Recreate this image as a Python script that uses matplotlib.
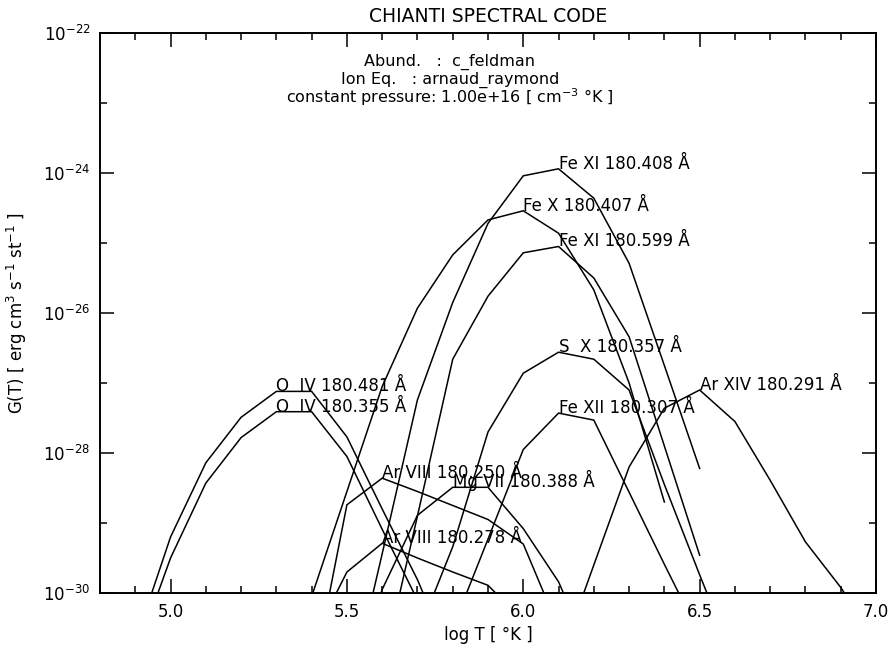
import numpy as np
import matplotlib
matplotlib.use("Agg")
import matplotlib.pyplot as plt
from matplotlib.ticker import FixedLocator, MultipleLocator, LogFormatterMathtext, FormatStrFormatter

# log10 G(T) tabulated on a 0.1 dex temperature grid
o4_481_t0 = 4.9
o4_481 = [-30.7, -29.2, -28.14, -27.49, -27.12, -27.12, -27.77, -28.8, -29.81, -31.0]
o4_355_t0 = 4.9
o4_355 = [-30.9, -29.5, -28.43, -27.78, -27.41, -27.41, -28.05, -29.09, -30.1, -31.2]
fe11_408_t0 = 5.5
fe11_408 = [-31.6, -29.44, -27.24, -25.85, -24.72, -24.04, -23.94, -24.36, -25.29, -26.75, -28.22]
fe10_407_t0 = 5.3
fe10_407 = [-31.8, -30.05, -28.55, -27.05, -25.93, -25.17, -24.67, -24.54, -24.86, -25.67, -27.0, -28.70]
fe11_599_t0 = 5.6
fe11_599 = [-31.1, -28.9, -26.66, -25.76, -25.14, -25.05, -25.50, -26.34, -27.9, -29.46]
s10_357_t0 = 5.7
s10_357 = [-30.6, -29.34, -27.70, -26.86, -26.56, -26.66, -27.1, -28.45, -29.74, -31.0]
fe12_307_t0 = 5.8
fe12_307 = [-30.5, -29.23, -27.95, -27.43, -27.53, -28.56, -29.59, -30.6]
ar14_291_t0 = 6.1
ar14_291 = [-31.0, -29.6, -28.2, -27.36, -27.1, -27.55, -28.39, -29.27, -29.92, -30.7]
ar8_250_t0 = 5.4
ar8_250 = [-31.3, -28.74, -28.36, -28.55, -28.75, -28.95, -29.3, -30.5]
mg7_388_t0 = 5.5
mg7_388 = [-31.5, -29.95, -28.89, -28.49, -28.49, -29.08, -29.84, -31.0]
ar8_278_t0 = 5.4
ar8_278 = [-30.7, -29.70, -29.29, -29.5, -29.70, -29.89, -30.4]

lines = [
    ("O  IV 180.481 \u00c5", o4_481_t0, o4_481),
    ("O  IV 180.355 \u00c5", o4_355_t0, o4_355),
    ("Fe XI 180.408 \u00c5", fe11_408_t0, fe11_408),
    ("Fe X 180.407 \u00c5", fe10_407_t0, fe10_407),
    ("Fe XI 180.599 \u00c5", fe11_599_t0, fe11_599),
    ("S  X 180.357 \u00c5", s10_357_t0, s10_357),
    ("Fe XII 180.307 \u00c5", fe12_307_t0, fe12_307),
    ("Ar XIV 180.291 \u00c5", ar14_291_t0, ar14_291),
    ("Ar VIII 180.250 \u00c5", ar8_250_t0, ar8_250),
    ("Mg VII 180.388 \u00c5", mg7_388_t0, mg7_388),
    ("Ar VIII 180.278 \u00c5", ar8_278_t0, ar8_278),
]

x_ticks = [5.0, 5.5, 6.0, 6.5, 7.0]
y_major = [1e-30, 1e-28, 1e-26, 1e-24, 1e-22]
y_minor = [1e-29, 1e-27, 1e-25, 1e-23]

plt.rcParams['font.family'] = ['DejaVu Sans']
plt.rcParams['mathtext.fontset'] = 'dejavusans'

fig = plt.figure(figsize=(8.91, 6.51), dpi=100)
ax = fig.add_axes([100/891, 58/651, 776/891, 560/651])

for label, t0, vals in lines:
    logg = np.array(vals)
    logt = t0 + 0.1 * np.arange(len(logg))
    ax.plot(logt, 10.0 ** logg, color='black', lw=1.1, solid_joinstyle='miter')
    k = int(np.argmax(logg))
    ax.text(logt[k], 10.0 ** logg[k], label, ha='left', va='baseline',
            fontsize=12, color='black', clip_on=False)

ax.set_yscale('log')
ax.set_xlim(4.8, 7.0)
ax.set_ylim(1e-30, 1e-22)

ax.xaxis.set_major_locator(FixedLocator(x_ticks))
ax.xaxis.set_minor_locator(MultipleLocator(0.1))
ax.xaxis.set_major_formatter(FormatStrFormatter('%.1f'))
ax.yaxis.set_major_locator(FixedLocator(y_major))
ax.yaxis.set_minor_locator(FixedLocator(y_minor))
ax.yaxis.set_major_formatter(LogFormatterMathtext())
ax.yaxis.set_minor_formatter(plt.NullFormatter())

ax.tick_params(which='both', direction='in', top=True, right=True, width=1.1)
ax.tick_params(which='major', length=10, labelsize=12, pad=7)
ax.tick_params(which='minor', length=5)
for s in ax.spines.values():
    s.set_linewidth(1.4)

ax.set_xlabel('log T [ \u00b0K ]', fontsize=12, labelpad=4)
ax.set_ylabel('G(T) [ erg cm$^3$ s$^{-1}$ st$^{-1}$ ]', fontsize=12, labelpad=10)

fig.text(488/891, 1 - 16/651, 'CHIANTI SPECTRAL CODE', ha='center', va='center', fontsize=13.5)

ax.text(0.451, 0.948, 'Abund.   :  c_feldman', transform=ax.transAxes,
        ha='center', va='center', fontsize=11.5)
ax.text(0.451, 0.917, 'Ion Eq.   : arnaud_raymond', transform=ax.transAxes,
        ha='center', va='center', fontsize=11.5)
ax.text(0.451, 0.885, 'constant pressure: 1.00e+16 [ cm$^{-3}$ \u00b0K ]', transform=ax.transAxes,
        ha='center', va='center', fontsize=11.5)

fig.savefig('out.png', dpi=100)
